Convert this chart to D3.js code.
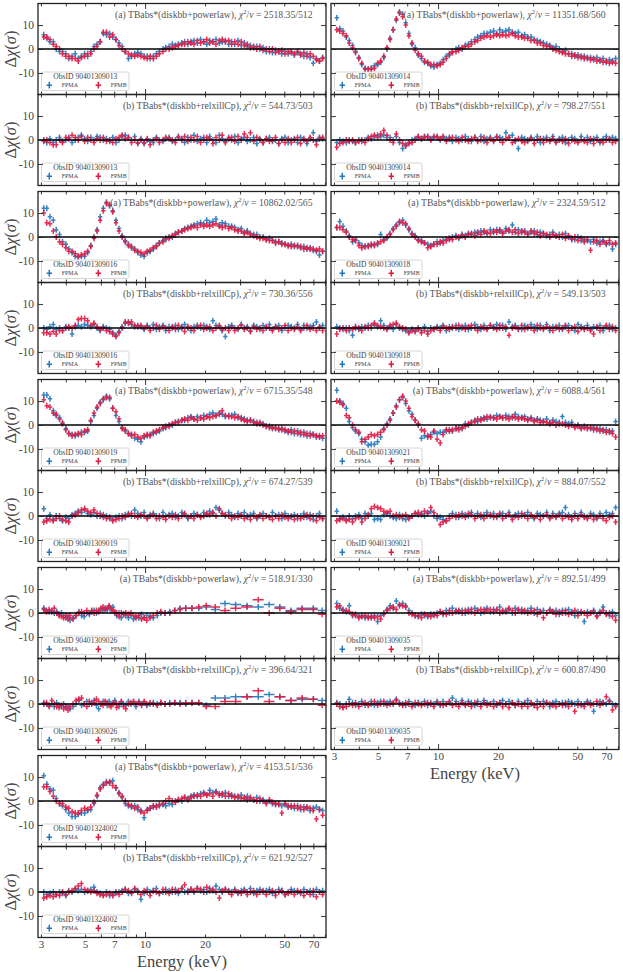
<!DOCTYPE html>
<html>
<head>
<meta charset="utf-8">
<script src="https://cdn.jsdelivr.net/npm/d3@7"></script>
<style>
	body { margin: 0; background: #fff; }
	svg { display: block; }
	text { font-family: 'Liberation Serif', 'DejaVu Serif', serif; }
</style>
</head>
<body>
<div id="chart"></div>
<script>
const width = 623;
const height = 972;

// bin centres (keV)
const energy = [
	3.10, 3.21, 3.33, 3.46, 3.58, 3.72, 3.85, 4.00, 4.14, 4.30,
	4.46, 4.62, 4.79, 4.97, 5.15, 5.34, 5.54, 5.74, 5.95, 6.17,
	6.40, 6.64, 6.88, 7.14, 7.40, 7.67, 7.95, 8.25, 8.55, 8.87,
	9.19, 9.53, 9.89, 10.25, 10.6, 11.0, 11.4, 11.8, 12.3, 12.7,
	13.2, 13.7, 14.2, 14.7, 15.3, 15.8, 16.4, 17.0, 17.6, 18.3,
	19.0, 19.7, 20.4, 21.1, 21.9, 22.7, 23.6, 24.4, 25.3, 26.3,
	27.2, 28.2, 29.3, 30.4, 31.5, 32.6, 33.8, 35.1, 36.4, 37.7,
	39.1, 40.6, 42.1, 43.6, 45.2, 46.9, 48.6, 50.4, 52.3, 54.2,
	56.2, 58.3, 60.4, 62.7, 65.0, 67.4, 69.9, 72.5, 75.1, 77.9
];
// 90401309026 has coarser binning
const energy026 = [
	3.1, 3.2, 3.3, 3.4, 3.5, 3.6, 3.7, 3.8, 3.9, 4.0,
	4.1, 4.2, 4.35, 4.5, 4.65, 4.8, 4.95, 5.1, 5.25, 5.4,
	5.55, 5.7, 5.85, 6.0, 6.15, 6.3, 6.45, 6.6, 6.75, 6.9,
	7.05, 7.2, 7.4, 7.6, 7.8, 8.0, 8.25, 8.5, 8.75, 9.0,
	9.3, 9.6, 9.9, 10.2, 10.6, 11.0, 11.5, 12.0, 12.6, 13.3,
	14.1, 15.0, 16.0, 17.2, 18.6, 20.3, 22.5, 25.2, 28.5, 32.5,
	37.0, 42.0, 47.5, 54.0, 61.5, 70.0, 77.5
];

const obsIds = ['90401309013', '90401309014', '90401309016', '90401309018', '90401309019',
	'90401309021', '90401309026', '90401309035', '90401324002'];
const chiPow = ['2518.35/512', '11351.68/560', '10862.02/565', '2324.59/512', '6715.35/548',
	'6088.4/561', '518.91/330', '892.51/499', '4153.51/536'];
const chiRel = ['544.73/503', '798.27/551', '730.36/556', '549.13/503', '674.27/539',
	'884.07/552', '396.64/321', '600.87/490', '621.92/527'];

const xTickLabels = [3, 5, 7, 10, 20, 50, 70];
const xMinorTicks = [3, 4, 5, 6, 7, 8, 9, 20, 30, 40, 50, 60, 70, 80];
const xMajorTicks = [10];
const yTicks = [-10, 0, 10];

// residuals, diskbb+powerlaw (a) and diskbb+relxillCp (b)
const pow013A = [6,4.5,3,3,0,-1,-1,-2,-4,-3, -2,-4,-3,-2,-3,-1,1,2,3,6.5, 6,6.5,5,4,2.5,1,-1,-4,-3,-2,
	-1.5,-2,-3,-3,-4,-3,-2,-1,0,0.5, 1,2,1.5,2,2.5,3,2,3,3.5,2.5, 4,3,2,3.5,3,4,2.5,3,3.5,2,
	3,2,3.5,1.5,2.5,1,1.5,0.5,1,0, 0.5,-1,0,-1.5,-0.5,-1,-2,-1,-2,-1, -2.5,-1.5,-2,-3,-2,-3.5,-6,-4,-5,-3.5];
const pow013B = [5,5,4,2,1,0,-2,-3,-3,-4, -4,-5,-3.5,-3,-2,-2,0,1,3,7, 7,5,6,4,1.5,0,-1,-2,-2.5,-3,
	-2.5,-3,-3.5,-4,-3,-4,-3,-2,-1,0, 0,0.5,1,1.5,2,2,3,2.5,2,3.5, 2.5,3,4,2.5,3,2,3.5,4,3,3.5,
	2,3,2,3,1.5,2,0.5,1,0,1, -0.5,0,-1,0,-1.5,-1,-0.5,-2,-1,-1.5, -2,-1,-2.5,-1.5,-3,-2,-3,-4.5,-5,-4];
const rel013A = [0,-1,0.5,-1,0,1,-0.5,0,1,-1, 0,1,2,0.5,-0.5,1,0,1.5,1,0, 0.5,-0.5,1,-1,0,1.5,2,1,0,1.5,
	-1,0.5,-1.5,0,-0.5,-1,1,0,-0.5,0.5, 1,-0.5,0,1.5,0.5,-1,1,0,2,-0.5, 0.5,1,-1,1.5,0,-1,2,0.5,-0.5,1,
	0,1.5,-1,0.5,1,-0.5,0,1,-1.5,0.5, -1,0.5,1,-0.5,0,-1.5,0.5,1,-1,0, 0.5,-1,1,0,-1.5,0.5,3,-0.5,1,0.5];
const rel013B = [-0.5,0,-1,-2,-2,0,-1,1,0.5,2, 1,0,1.5,-0.5,1,0,-1,0.5,0,1, -0.5,0,-1,0.5,1,2,0.5,1,-1,0,
	-1.5,0,-1,0.5,-2,0,0.5,-1,0,1, 0.5,0,-1,1,0,1.5,-0.5,1,0,1.5, -1,0,1,0.5,-1.5,1,0,2,-1,0.5,
	1,-0.5,1.5,0,2.5,1,3,-0.5,1,0, -1,0.5,-0.5,0,1,-1.5,0,-1,0.5,-1, 0,1,-1.5,0.5,-0.5,1,0,-2,0.5,1];

const pow014A = [13,8.5,7.5,5,3.5,1.5,-1,-3.5,-6.5,-8, -8.5,-8,-7,-6.5,-5.5,-3.5,0,4.5,8,12, 15.5,14.5,11,6.5,2,0.5,-2.5,-4,-5.5,-6,
	-7,-7.5,-6.5,-6,-4.5,-3,-2.5,-1,0,0.5, 0,1.5,2,3,4,5,5.5,6.5,6.5,7, 7.5,6.5,8,7,7.5,8,7,6.5,7,5.5,
	6,5,5,4,3.5,3,2.5,2,1.5,0.5, 1,0,-1,-0.5,-2,-2,-3,-2.5,-3.5,-3, -4,-3.5,-4.5,-3.5,-5,-4,-5.5,-4.5,-5,-4];
const pow014B = [8,7.5,6.5,5.5,2.5,0.5,-1.5,-4,-6,-8.5, -8.5,-8.5,-8,-6,-5,-3,0.5,4,8,12.5, 15,13.5,10,5.5,2.5,-0.5,-2,-3,-5,-5.5,
	-6.5,-6.5,-7,-6.5,-5.5,-4,-2,-1.5,-1,-0.5, 0.5,1,1,2,3,3.5,4.5,5,5.5,5, 5.5,6,5.5,6,5.5,6,6.5,5.5,5,5,
	4.5,4.5,3.5,3.5,2.5,2.5,1.5,1,1,0, -0.5,-1,-1.5,-2,-2,-3,-2.5,-3.5,-3,-4, -3.5,-4.5,-4,-5,-4.5,-5.5,-5,-6,-5.5,-6];
const rel014A = [-1,0,-0.5,-1,0,-0.5,-1,0,-0.5,0, 1,0.5,1.5,2,1.5,2,1,1,0,1.5, -1,-3.5,-2,-1,0,0.5,1,0.5,1.5,1,
	0.5,1,1.5,0,1,0.5,1,-0.5,1,0.5, 0,1.5,0.5,-0.5,1,0,1.5,-0.5,0.5,1, 0,1.5,1,0.5,3,1,2,-0.5,-3.5,1,
	0.5,-0.5,1,0,1.5,-1,0.5,1,0,1.5, -0.5,0.5,1,-1,0,1,0.5,-0.5,1.5,0, 1,-0.5,0.5,1,-1,0.5,1.5,0,1,0.5];
const rel014B = [-3,-1.5,-1,0,-0.5,0,-1,-0.5,0,-1, 0.5,1.5,2,1,2.5,4,2,0,-1,2.5, 0,-1.5,-2.5,-1.5,-1,0,1.5,0.5,1,1.5,
	0,1.5,1,0.5,1.5,-0.5,0.5,1,0,-0.5, 1,0,-0.5,0.5,1,-0.5,0,1,-1,0.5, -0.5,1,0,-1,0.5,1,-1,0,0.5,-0.5,
	-1,0,0.5,-1.5,0,0.5,-1,0,-0.5,0.5, -1,0,-0.5,0.5,-1.5,0,-0.5,-1,0,-0.5, -1,0.5,-1.5,0,-0.5,-1,0,0.5,-1,-0.5];

const pow016A = [12,12,8.5,7,3,1,-2,-3,-5,-6.5, -8,-8.5,-8,-8,-6.5,-3.5,0,3,8.5,12, 14.5,13,11,7,3.5,0.5,-1.5,-3,-4.5,-5,
	-6.5,-7.5,-8,-6.5,-6,-5,-3.5,-2.5,-1.5,-1, 0,0,1.5,2,2.5,3.5,4,4.5,5,5.5, 6,5.5,7,6,6.5,7.5,5,6,5.5,4.5,
	4.5,4,3,3.5,2,2.5,1.5,1,1,0, 0,-1,-0.5,-1.5,-2,-2,-2.5,-3,-3.5,-3, -4,-3.5,-4.5,-4,-5,-4.5,-5.5,-6,-7.5,-6];
const pow016B = [10,6,5.5,2.5,0,-2,-3,-4.5,-6,-6, -7,-8,-7.5,-7,-6,-4,-0.5,2.5,7,11, 14,13.5,10.5,6,2.5,0,-2,-3.5,-4,-5.5,
	-6,-6.5,-7,-6,-5.5,-4.5,-4,-2.5,-2,-0.5, -0.5,0.5,1,2,2.5,3,3.5,4,4.5,4, 5,4.5,5,4.5,5,5.5,4.5,4,4.5,3.5,
	4,3,2.5,2.5,1.5,2,1,0.5,0,-0.5, -0.5,-1,-1.5,-1.5,-2.5,-2,-3,-3,-3.5,-4, -3.5,-4,-4,-5,-4.5,-5,-5,-5.5,-5,-6];
const rel016A = [0,-0.5,0.5,1.5,-0.5,0,-1,0.5,0,-2.5, 0.5,1,0.5,1.5,1,0.5,1.5,0,-1,0.5, 0,-0.5,-2,-3,-1.5,0.5,2,2.5,1.5,0.5,
	1,0.5,-0.5,1,0,1.5,-0.5,0.5,1,-1, 0.5,0,1,-0.5,0.5,1.5,0,-1,0.5,1, 0,1,0.5,-0.5,3,1,0.5,-1,-3.5,0.5,
	1,0,-0.5,1.5,0,0.5,-1,1,0.5,-0.5, 1,0,1.5,-0.5,0.5,1,-1,0,1,0.5, 0,1.5,-0.5,1,0,0.5,1,2.5,0,1];
const rel016B = [-2,-2,-2.5,-1.5,-2.5,-1,-1,0,0.5,0, 1,3.5,4,4,3,1,2,0.5,-0.5,0, -1,-1.5,-2.5,-3.5,-2,0,2.5,2,2.5,1,
	0.5,1,0,0.5,-1,0,1,-0.5,0.5,0, -1,0.5,-0.5,1,0,-1.5,0.5,0,-1,0.5, 1,-0.5,0,0.5,-1,0,1,-0.5,0,-1,
	0.5,-1,0,1,-0.5,0,-1.5,0.5,-0.5,0, -1,0.5,0,-1,0.5,-0.5,0,1,-1,0, -0.5,0.5,-1,0,1,-0.5,0,-1,0.5,-1];

const pow018A = [4,6.5,4.5,2.5,0.5,-2,-1,-2.5,-3.5,-4, -3.5,-3.5,-3,-3,1,-1,-0.5,1.5,3.5,5, 6,7,5,3,1.5,0.5,-1,-1.5,-2.5,-3,
	-3.5,-3,-2,-2.5,-1.5,-1,-1,0,0.5,-0.5, 1,0.5,1.5,1,2,1.5,2.5,2,1.5,3, 2,3,2.5,2,3.5,2.5,5,2,3,2,
	2.5,1.5,2,2.5,1,2,1.5,0.5,1,2, 0.5,1,0,1.5,0,-0.5,-1,0,-1.5,-1, -1.5,-2,-1,-2.5,-2,-1.5,-3,-2.5,-5,-3];
const pow018B = [4,4,3,2,0,-1,-1.5,-3.5,-4.5,-4, -4,-3,-3.5,-2.5,-2,-1.5,0,1,3,4.5, 6.5,6,5.5,3.5,1,0,-1.5,-2,-2.5,-4.5,
	-4,-3,-3,-2,-2.5,-1.5,-0.5,-1,0,0, 0.5,0,1,1.5,0.5,2,1,2.5,2,1.5, 2.5,2,3,1.5,2.5,3,2,3,1.5,2.5,
	2,1,2.5,1.5,2,0.5,1.5,1,0,1, 0.5,0,1,-0.5,0.5,-1,0,-1.5,-0.5,-2, -1,-5.5,-2,-1.5,-3,-2,-2.5,-1.5,-3,-2.5];
const rel018A = [0.5,0,-0.5,0,-1,-3,0,-0.5,0.5,0, 1,0,1.5,0.5,3,1,0,0.5,-0.5,1.5, 0,-0.5,-1,-1.5,-0.5,-1,0,-1,0.5,-1.5,
	0,-0.5,0.5,0,1,-1,0.5,0,1,-0.5, 0.5,1,-0.5,0,1.5,0.5,-0.5,1,0,1, 0.5,1.5,0,1,-0.5,2.5,0.5,1,0,-0.5,
	1,0,1.5,0.5,-0.5,1,0,1.5,-1,0.5, 0,1,-0.5,0.5,1,0,-1,1.5,0.5,0, 1,-0.5,0.5,0,1,-1,0.5,1,-0.5,0];
const rel018B = [-2.5,-0.5,0,-1,0,-0.5,0.5,0,-1,0.5, 0,1,2,1,0.5,0,-0.5,1,1.5,2, 0.5,0,-0.5,-2,-1,-1.5,-0.5,-2,-1,-2.5,
	-1,-0.5,0,-1,0.5,0,-0.5,0.5,0,1, 0,-0.5,0.5,1,0,-1,0.5,0,-0.5,1, 0,-0.5,1,0,0.5,-3,0,0.5,-0.5,1,
	-0.5,0.5,0,-1,1,0,-0.5,0.5,0,-1, 0.5,-0.5,0,1,-1,0,0.5,-1.5,0,-0.5, 0,-1,-2.5,0.5,-1,0,1,-0.5,0.5,-1];

const pow019A = [12.5,12.5,11,6,4,3,1,-1.5,-3.5,-4, -4.5,-4,-3,-3,-2.5,1.5,4,7,9.5,10.5, 12,11,7,4,1.5,-1,-2.5,-3.5,-4,-5.5,
	-6,-7,-5,-4.5,-4,-3.5,-3,-2.5,-1.5,-1, 0,0,1,1.5,2,2,3,3.5,2.5,3.5, 3,4,3.5,4.5,5,4,5,4.5,3.5,4,
	4,4.5,3,3,2.5,2,2,1.5,1,0.5, 0.5,-0.5,-0.5,-1.5,-1,-2,-1.5,-2.5,-3,-2, -3.5,-2.5,-4,-3,-4.5,-3.5,-4,-5,-4.5,-5.5];
const pow019B = [10.5,8,7.5,5,4.5,2.5,0.5,-2,-3.5,-4.5, -4,-3.5,-4,-2.5,-2,2,5,7.5,9,11, 11.5,11.5,7,5.5,2.5,-1.5,-2,-3.5,-4.5,-4,
	-5,-5.5,-4.5,-4,-4.5,-3,-2.5,-2,-1,-0.5, -0.5,0.5,1,1,2,2.5,2,3,2.5,2, 3,2.5,3.5,3,3.5,4,4.5,6,4,3.5,
	3.5,3,3.5,2.5,2,1.5,2,1,0.5,1, 0,-0.5,-1,-1,-1.5,-1.5,-2,-2,-2.5,-3, -2.5,-3.5,-3,-4,-3.5,-4.5,-4,-4.5,-5,-4.5];
const rel019A = [3,-1,0.5,-1.5,0,-1,-2,-0.5,-1,0.5, 1,2,1.5,2.5,1,0.5,1.5,0,1,-0.5, 0,-1,-1.5,-0.5,0,-1,0.5,1,0,2.5,
	1,0,1.5,-0.5,0.5,1,0,-1,1.5,0, 0.5,1,-0.5,0,1.5,0.5,-1,0,1,0.5, 0,1.5,0.5,2,1,3.5,2.5,1,0,1.5,
	0.5,-0.5,1,0,1.5,-0.5,0.5,1,-1,0, 1,0,-0.5,1.5,0,0.5,-1,1,0,-0.5, 0.5,-1,0,1,-0.5,0.5,-1.5,0,1,-1];
const rel019B = [-2.5,-2,-1.5,-2,-1,0,-1.5,-2,-2.5,0, 0.5,1.5,2.5,3,2,1.5,2.5,1,0,0.5, -1,-0.5,-2,-1.5,-1,0,-0.5,0.5,1,0,
	-0.5,0.5,0,-1,0,0.5,-1,0,-0.5,-1.5, 0,-0.5,0.5,-1,0,1,-0.5,0,-1,0.5, -0.5,0,1,0.5,1.5,0,3,1,0.5,0,
	-1,0,-0.5,0.5,-1,0,-1.5,0,-0.5,0.5, -1,0,-0.5,-1.5,0,-1,0.5,-0.5,-1,0, -1.5,0,-1,-0.5,0.5,-1,0,-2,-0.5,-1];

const pow021A = [14.5,10,9,7,1.5,-1,-2.5,-3.5,-6,-7, -8.5,-8,-8,-7,-5,-1.5,0.5,2.5,5,8, 10.5,11.5,9,6,4.5,2,0,-5.5,-4.5,-5,
	-4,-3,-3.5,-3,-3,-2.5,-2,-2.5,-1.5,-1, -1.5,0.5,0,1,2,1.5,2.5,3,2.5,3.5, 3,4,3.5,3,4,3.5,3,4.5,3.5,3,
	3.5,2.5,3,2,2.5,2,1.5,2.5,1,2, 1.5,1,3.5,1,0.5,1,-0.5,0,-1,-0.5, -1,-1.5,-1,-2,-1.5,-2.5,-2,-3,-2.5,1.5];
const pow021B = [10,9.5,8.5,4,3,0,-2,-3,-7,-6, -5,-4,-4.5,-4,-3,-2,0,2,5,7.5, 10.5,12,10,7,3.5,2,0.5,-2,-2.5,-4.5,
	-5,-2.5,-6,-7.5,-4,-2,-2.5,-2,-1.5,-2, -1,-0.5,0.5,1,1.5,2.5,2,2.5,3.5,3, 3,2.5,3.5,3,3,2.5,3.5,3,2.5,3,
	2.5,2,2.5,1.5,2,1,1.5,1,0.5,1, 0,0.5,0.5,0,-0.5,0,-1,-0.5,-1.5,-1, -1.5,-1,-2,-1.5,-2.5,-2,-3,-2.5,-3.5,-5];
const rel021A = [2,-1,-0.5,-1.5,0,-1,0,0.5,-1,1, 0,1,-1.5,-1,-1.5,0.5,1,0,-0.5,-1, 0.5,-1,-1.5,-0.5,0,1,0.5,1,0,1.5,
	2,0,-1,-0.5,-1.5,-2,0,1,0.5,-0.5, 1,0.5,0,1.5,0,1,-0.5,0.5,1.5,0, 1,-0.5,0.5,1,0,1.5,-0.5,0.5,1,0,
	0.5,1.5,0,-1,1,0.5,0,1.5,-0.5,1, 0,1,1.5,3.5,0.5,-0.5,1,0,1.5,0, -0.5,1,0.5,-1,1,0,1.5,0.5,1,3.5];
const rel021B = [-2,-1.5,-1,-2,-1.5,-2.5,-1,-0.5,-2.5,-1, 0.5,3,4,3.5,3,2,1.5,2,0,0.5, -0.5,0,0.5,-1,0,1,1.5,0.5,2,1,
	3.5,1.5,0,-3.5,-2.5,-2,-1,0,-0.5,0.5, 0,-0.5,1,0.5,-1,0,0.5,-1,0,0.5, -0.5,0,1,-1,0,0.5,-1.5,0,-0.5,1,
	0,-1,0.5,-0.5,0,-1.5,0,0.5,-1,0, -0.5,0.5,-1,0,-0.5,-1.5,0,-1,0.5,-0.5, -1,0,-1.5,-0.5,0,-1,-2,-0.5,0,-2.5];

const pow026A = [2,1,0.5,1,0,0.5,-0.5,0,-1,-2, -1.5,-3,-2,-1,0.5,-1,-1.5,0,-0.5,0.5, 1,0,1,1.5,1,2,1.5,2.5,1,2.5,
	0,-1,0,-2,-0.5,-1,-2,-1,-2.5,-1.5, -2,-0.5,-2,-1,-1.5,-2,-1,0,0,0.5, 1,2,2,2,2,2.5,1.5,4,3.5,3,
	2.5,3.5,2.5,1,2,2,1];
const pow026B = [1.5,0.5,1.5,0.5,2,0,-1,-1.5,-2,-1, -2.5,-1,-2.5,-1,0,0.5,0,1,0,1, 0,1,0.5,2,2.5,1.5,2,3,2,1,
	0.5,0,-1.5,0,-0.5,0,-0.5,0,-1,-2, -1,-2.5,-2,-3,-2,-1,0,0.5,0,0, 1,1.5,2,2,2.5,3,2.5,1,2,2.5,
	5.5,0,2,0.5,1.5,1.5,-0.5];
const rel026A = [0.5,0,-0.5,0,-1,0.5,-0.5,-1,0,-1.5, -1,-2,-1,0,1.5,-0.5,0,1,0,0.5, 1.5,-0.5,-2,0,1,0.5,-0.5,1,0,0.5,
	1.5,0,-1,0.5,0,-0.5,1,0,0.5,-1, 1,0,0.5,-0.5,0,0.5,0,0.5,0,0.5, 0.5,0.5,0,0.5,0.5,-0.5,2.5,2.5,3,3,
	3,4,3,1.5,2,2,1.5];
const rel026B = [0,0.5,-1,1.5,0,-1,-1.5,-0.5,-2,-1, -2.5,-1,0,1.5,2,2.5,0,-1,1,0, 0.5,2,1,0,-0.5,1,0.5,-0.5,-1,0,
	0.5,-1.5,0,1,-1,-2,0,0.5,1,0, 0.5,-0.5,1,0,0.5,0,-0.5,0.5,0,0, 0.5,0,0.5,0.5,0.5,-1,-1,1,1,3,
	5.5,1,3,1.5,2.5,2,-0.5];

const pow035A = [4,2,1.5,0.5,3,-1,-0.5,-1.5,-1,-2, -1.5,-2,-1,-3.5,-1,0,1.5,3,2,5, 3,4,3,1,0,-1,-1.5,-0.5,-1,-1.5,
	-0.5,-1,0,0.5,-0.5,1,0,2,1,0.5, 1,0,1.5,0.5,2,1,0,1.5,2,0.5, 1.5,1,2.5,0.5,1,1.5,0,2,1,1.5,
	0.5,1,2,0,1.5,0.5,1,0,1.5,0.5, 1,-0.5,1,0,1.5,0.5,-1,0.5,0,-3.5, 0.5,0,1,-1,0.5,2.5,0,-1,0.5,-1];
const pow035B = [2.5,3,1,1,0.5,-0.5,-1,-2,-1.5,-1, -2,-1.5,-2,-1.5,-2.5,-0.5,1,2,2.5,1.5, 3.5,3,2.5,0,-0.5,-1,-1,-2,-0.5,-1,
	-1.5,-0.5,-1,0.5,0,-0.5,1,0,0.5,1, 0,1,0.5,1.5,0,1,1.5,0.5,1,1.5, 0.5,1.5,0,1,0.5,2,1,0,1.5,0.5,
	1,0,0.5,1,-0.5,0.5,-2,0,1,0.5, -0.5,0.5,0,1,-0.5,0,1,-1,0.5,0, -1,0,0.5,-1.5,0,1,-0.5,0,-1.5,-3];
const rel035A = [0.5,0,-1,0,2,0.5,-0.5,0,1,-0.5, 0,1,-0.5,0.5,1,0,0.5,1,0,2, 0.5,0,-0.5,1,0,-0.5,0.5,0,1,-0.5,
	0.5,0,1,-0.5,1,0,0.5,2.5,1,0, 1.5,0,1,0.5,-0.5,1,0,1.5,0.5,0, 1,-0.5,0.5,1.5,0,1,0.5,-0.5,1,0,
	0.5,1.5,0,-0.5,1,0,1,0.5,-1,0.5, 1,0,0.5,-0.5,1,0.5,0,1,-0.5,0, 1,0.5,-3,0,1,0.5,0,1.5,0,-0.5];
const rel035B = [0,-1,-1.5,-1,0,-0.5,0.5,-1,0,0.5, -0.5,0,1,-0.5,0,1,-0.5,0,0.5,1.5, 0,-0.5,0.5,0,-1,0.5,0,-0.5,0,0.5,
	0,-1,0.5,0,-0.5,0,1,-0.5,0,-1, 0.5,-0.5,0,-1,0.5,0,-1,0.5,-0.5,0, -1,0,0.5,-1,0,-1.5,0.5,-0.5,0,-1,
	0,-1,0.5,-0.5,-1.5,0,-1,0.5,0,-0.5, -1,0,-0.5,0.5,-1,0,-3,-0.5,0,-1, 0.5,-0.5,0,1,-0.5,0.5,3,1,-2.5,-1];

const pow324A = [10.5,7,5,4.5,1,-1,-2,-3.5,-5,-6.5, -6.5,-5.5,-5,-5,-4,-3.5,-1,2,5.5,7, 8,7.5,8.5,5.5,3.5,1.5,-1,-2,-2.5,-2,
	-3.5,-4,-7,-3.5,-3,-2.5,-2,-2,-1.5,-2, -1,-1.5,0,0.5,0,1.5,1,2,2.5,2, 3,3.5,2.5,4.5,3.5,4,3,2.5,3.5,2,
	2.5,2,1.5,2.5,1,2,1,0.5,1.5,0, 0.5,-0.5,0,-1,-1.5,-1,-2,-1.5,-2.5,-2, -3,-2,-3.5,-2.5,-3,-4,-3,-2.5,-3.5,-4];
const pow324B = [6,6,4,2,0,-1,-1,-2.5,-3,-4.5, -5,-5,-4,-3,-3.5,-2.5,-0.5,2.5,5,6.5, 7.5,8,6.5,5.5,3,2,0,-1.5,-2,-3,
	-2.5,-4.5,-5,-4,-3,-2,-2.5,-1.5,-1,0, 1,0,-0.5,0.5,1,1.5,0.5,1.5,2,2.5, 2,3,2.5,3,2,3.5,2.5,3,2,3,
	2,1.5,2,1,1.5,0.5,1.5,0.5,0,1, 0,-1,0.5,-0.5,-1,-1.5,-5,-1,-2,-2.5, -2,-3,-2.5,-3.5,-2.5,-3,-4,-7.5,-3.5,-6];
const rel324A = [0,-1,-0.5,0,-1,0,-0.5,-1.5,0.5,0, 1,0.5,1,0,0.5,1,2,0,-0.5,-1, 0,-1.5,-1,-0.5,0,0.5,1,-0.5,0,1,
	0.5,-3,-0.5,1,0,0.5,1.5,-0.5,0,1, 0.5,0,1,-0.5,1.5,0,0.5,1,0,1.5, 0.5,1,0,1.5,0.5,2.5,1,0,1,0.5,
	0,1,-0.5,0.5,1,0,1.5,-0.5,0.5,1, 0,0.5,1,-0.5,0,1,0.5,-1,0,1, 0.5,0,-0.5,1,0,0.5,-1,1,0,0.5];
const rel324B = [-2.5,-2,-1.5,-2,-1,-1.5,0,-1,0,0.5, 1.5,2.5,3.5,1,0.5,0,0.5,-0.5,-1,-1.5, -1,-0.5,-1.5,0,-1,0,1,0.5,-0.5,1.5,
	0,-1,0.5,0,-1.5,0.5,0,-0.5,1,0, -0.5,1,0,0.5,1.5,3,0,1,0.5,1.5, 1,0,2,0.5,1,0,-2.5,0.5,1,0,
	-1,0.5,0,-0.5,0.5,-1,0,0.5,-1,0, 0.5,-1,0,0.5,-1.5,0,0.5,-1,-0.5,0, -1,0.5,0,-1.5,0,-1,0.5,-2,0,-1];

// panel table built from the arrays above: [col, row]
const panels = [
	{ k: 0, col: 0, row: 0, grid: energy, pa: pow013A, pb: pow013B, ra: rel013A, rb: rel013B },
	{ k: 1, col: 1, row: 0, grid: energy, pa: pow014A, pb: pow014B, ra: rel014A, rb: rel014B },
	{ k: 2, col: 0, row: 1, grid: energy, pa: pow016A, pb: pow016B, ra: rel016A, rb: rel016B },
	{ k: 3, col: 1, row: 1, grid: energy, pa: pow018A, pb: pow018B, ra: rel018A, rb: rel018B },
	{ k: 4, col: 0, row: 2, grid: energy, pa: pow019A, pb: pow019B, ra: rel019A, rb: rel019B },
	{ k: 5, col: 1, row: 2, grid: energy, pa: pow021A, pb: pow021B, ra: rel021A, rb: rel021B },
	{ k: 6, col: 0, row: 3, grid: energy026, pa: pow026A, pb: pow026B, ra: rel026A, rb: rel026B },
	{ k: 7, col: 1, row: 3, grid: energy, pa: pow035A, pb: pow035B, ra: rel035A, rb: rel035B },
	{ k: 8, col: 0, row: 4, grid: energy, pa: pow324A, pb: pow324B, ra: rel324A, rb: rel324B }
];

const cols = [{ x0: 38, x1: 326 }, { x0: 331, x1: 619 }];
const lastRow = [4, 3];
const ph = 91;
const rowTop = (r) => 3.5 + 188 * r;
const xDomain = [2.9, 81];
const yDomain = [-19, 19];
const blue = '#1f76bd';
const red = '#e4173f';
const textGrey = '#444';

const svg = d3.select('#chart').append('svg')
	.attr('width', width)
	.attr('height', height);

function crossPath(x, y, grid, vals) {
	let d = '';
	const n = Math.min(grid.length, vals.length);
	for (let i = 0; i < n; i++) {
		const e = grid[i];
		const prev = i > 0 ? grid[i - 1] : e * e / grid[i + 1];
		const next = i < n - 1 ? grid[i + 1] : e * e / grid[i - 1];
		const xc = x(e);
		const xl = Math.min(x(Math.sqrt(prev * e)), xc - 2.2);
		const xr = Math.max(x(Math.sqrt(next * e)), xc + 2.2);
		const v = vals[i];
		d += `M${xl},${y(v)}H${xr}M${xc},${y(v + 1.25)}V${y(v - 1.25)}`;
	}
	return d;
}

function drawPanel(p, sub) {
	const c = cols[p.col];
	const top = rowTop(p.row) + sub * ph;
	const x = d3.scaleLog().domain(xDomain).range([c.x0, c.x1]);
	const y = d3.scaleLinear().domain(yDomain).range([top + ph, top]);
	const g = svg.append('g');

	const a = sub === 0 ? p.pa : p.ra;
	const b = sub === 0 ? p.pb : p.rb;

	g.append('path').attr('d', crossPath(x, y, p.grid, a))
		.attr('fill', 'none').attr('stroke', blue).attr('stroke-width', 1.5).attr('opacity', 0.9);
	g.append('path').attr('d', crossPath(x, y, p.grid, b))
		.attr('fill', 'none').attr('stroke', red).attr('stroke-width', 1.5).attr('opacity', 0.9);

	g.append('line')
		.attr('x1', c.x0).attr('x2', c.x1)
		.attr('y1', y(0)).attr('y2', y(0))
		.attr('stroke', '#000').attr('stroke-width', 1.4);

	// title
	const model = sub === 0 ? '(a) TBabs*(diskbb+powerlaw), ' : '(b) TBabs*(diskbb+relxillCp), ';
	const chi = sub === 0 ? chiPow[p.k] : chiRel[p.k];
	const t = g.append('text')
		.attr('x', c.x1 - 13.5).attr('y', top + 14)
		.attr('text-anchor', 'end')
		.attr('font-size', 9.7)
		.attr('fill', '#555');
	t.append('tspan').text(model);
	t.append('tspan').attr('font-style', 'italic').text('χ');
	t.append('tspan').attr('font-size', 6.6).attr('dy', -4).text('2');
	t.append('tspan').attr('dy', 4).text('/');
	t.append('tspan').attr('font-style', 'italic').text('ν');
	t.append('tspan').text(' = ' + chi);

	// legend
	const lg = g.append('g').attr('transform', `translate(${c.x0 + 3.5},${top + 68.5})`);
	lg.append('rect').attr('width', 87.5).attr('height', 18.5).attr('rx', 2)
		.attr('fill', '#fff').attr('fill-opacity', 0.85)
		.attr('stroke', '#ccc').attr('stroke-width', 0.8);
	lg.append('text').attr('x', 43.8).attr('y', 6.8).attr('text-anchor', 'middle')
		.attr('font-size', 7.6).attr('fill', textGrey).text('ObsID ' + obsIds[p.k]);
	[['FPMA', blue, 7.8], ['FPMB', red, 56.8]].forEach(([name, col, mx]) => {
		lg.append('path')
			.attr('d', `M${mx - 2.7},13.2H${mx + 2.7}M${mx},9.8V16.6`)
			.attr('stroke', col).attr('stroke-width', 1.5);
		lg.append('text').attr('x', mx + 12.4).attr('y', 15.4)
			.attr('font-size', 6).attr('fill', textGrey).text(name);
	});

	// ticks, pointing in on all four sides
	const noLab = () => '';
	const side = (axis, tx, ty) => g.append('g')
		.attr('transform', `translate(${tx},${ty})`)
		.call(axis)
		.call((s) => s.select('.domain').remove())
		.call((s) => s.selectAll('line').attr('stroke', '#222').attr('stroke-width', 0.9));
	side(d3.axisBottom(x).tickValues(xMinorTicks).tickSize(-3).tickFormat(noLab), 0, top + ph);
	side(d3.axisBottom(x).tickValues(xMajorTicks).tickSize(-5.5).tickFormat(noLab), 0, top + ph);
	side(d3.axisTop(x).tickValues(xMinorTicks).tickSize(-3).tickFormat(noLab), 0, top);
	side(d3.axisTop(x).tickValues(xMajorTicks).tickSize(-5.5).tickFormat(noLab), 0, top);
	side(d3.axisRight(y).tickValues(yTicks).tickSize(-5).tickFormat(noLab), c.x1, 0);
	const left = side(d3.axisLeft(y).tickValues(yTicks).tickSize(-5).tickPadding(4)
		.tickFormat(p.col === 0 ? (d) => String(d) : noLab), c.x0, 0);
	left.selectAll('text').attr('font-size', 11.5).attr('fill', textGrey)
		.style('font-family', "'Liberation Serif', serif");

	if (p.col === 0) {
		const yl = g.append('text')
			.attr('transform', `translate(16,${top + ph / 2}) rotate(-90)`)
			.attr('text-anchor', 'middle')
			.attr('font-size', 16.5)
			.attr('fill', textGrey);
		yl.append('tspan').text('Δ');
		yl.append('tspan').attr('font-style', 'italic').text('χ');
		yl.append('tspan').text('(');
		yl.append('tspan').attr('font-style', 'italic').text('σ');
		yl.append('tspan').text(')');
	}

	// tick labels and axis title under the last panel of each column
	if (sub === 1 && p.row === lastRow[p.col]) {
		const lab = side(d3.axisBottom(x).tickValues(xTickLabels).tickSize(0).tickPadding(2.5)
			.tickFormat((d) => String(d)), 0, top + ph);
		lab.selectAll('text').attr('font-size', 11).attr('fill', textGrey)
			.style('font-family', "'Liberation Serif', serif");
		g.append('text')
			.attr('x', (c.x0 + c.x1) / 2).attr('y', top + ph + 29.5)
			.attr('text-anchor', 'middle')
			.attr('font-size', 16.5)
			.attr('fill', textGrey)
			.text('Energy (keV)');
	}

	g.append('rect')
		.attr('x', c.x0).attr('y', top)
		.attr('width', c.x1 - c.x0).attr('height', ph)
		.attr('fill', 'none').attr('stroke', '#222').attr('stroke-width', 1.3);
}

panels.forEach((p) => {
	drawPanel(p, 0);
	drawPanel(p, 1);
});
</script>
</body>
</html>
